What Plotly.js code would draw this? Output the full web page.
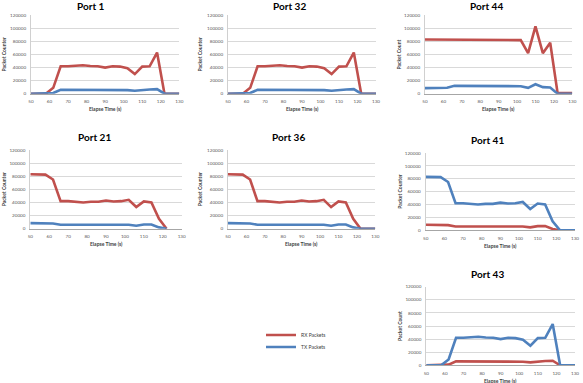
<!DOCTYPE html>
<html>
<head>
<meta charset="utf-8">
<script src="https://cdn.plot.ly/plotly-3.0.1.min.js"></script>
<style>html,body{margin:0;padding:0;background:#fff;}#chart{width:583px;height:383px;}</style>
</head>
<body>
<div id="chart"></div>
<script>
// ---- data ----
const timeFull = [50,54,58,62,66,70,74,78,82,86,90,94,98,102,106,110,114,118,122,126,130];
const timeShort = [50,54,58,62,66,70,74,78,82,86,90,94,98,102,106,110,114,118,122];

const port1RX  = [0,0,0,9000,42000,42000,42500,43500,42500,42000,40000,42000,41500,39000,30000,41500,42000,63000,0,0,0];
const port1TX  = [0,0,0,1000,6000,6000,6000,6500,6000,6000,5500,6000,6000,5500,4500,6000,6500,7000,0,0,0];
const port32RX = [0,0,0,9000,42000,42000,42500,43500,42500,42000,40000,42000,41500,39000,30000,41500,42000,63000,0,0,0];
const port32TX = [0,0,0,1000,6000,6000,6000,6500,6000,6000,5500,6000,6000,5500,4500,6000,6500,7000,0,0,0];
const port44RX = [83000,83000,83000,83000,83000,83000,82500,82500,82500,82500,82500,82500,82500,82000,62000,103000,62000,78000,1000,1000,1000];
const port44TX = [8500,8500,8500,9000,12000,12000,12000,12000,11500,11500,11500,11500,11500,11500,9000,14500,10000,9500,0,0,0];
const port21RX = [83000,83000,82500,75000,42000,42000,41000,40000,41000,41000,43000,41500,42000,44000,33000,41500,40000,15000,0];
const port21TX = [8500,8500,8500,8000,6000,6000,6000,6000,5500,5500,6000,6000,6000,6000,4500,6500,6500,2000,0];
const port36RX = [83000,83000,82500,75000,42000,42000,41000,40000,41000,41000,43000,41500,42000,44000,33000,41500,40000,15000,0,0,0];
const port36TX = [8500,8500,8500,8000,6000,6000,6000,6000,5500,5500,6000,6000,6000,6000,4500,6500,6500,2000,0,0,0];
const port41RX = [8500,8500,8500,8000,6000,6000,6000,6000,5500,5500,6000,6000,6000,6000,4500,6500,6500,2000,0,0,0];
const port41TX = [83000,83000,82500,75000,42000,42000,41000,40000,41000,41000,43000,41500,42000,44000,33000,41500,40000,14000,0,0,0];
const port43RX = [0,0,0,1000,6000,6000,6000,6500,6000,6000,5500,6000,6000,5500,4500,6000,6500,7000,0,0,0];
const port43TX = [0,0,0,9000,42000,42000,42500,43500,42500,42000,40000,42000,41500,39000,30000,41500,42000,63000,0,0,0];

const xTicks = [50,60,70,80,90,100,110,120,130];
const yTicks = [0,20000,40000,60000,80000,100000,120000];

const panels = [
  {name:'Port 1',  yTitle:'Packet Counter', x:timeFull,  rx:port1RX,  tx:port1TX},
  {name:'Port 32', yTitle:'Packet Counter', x:timeFull,  rx:port32RX, tx:port32TX},
  {name:'Port 44', yTitle:'Packet Count',   x:timeFull,  rx:port44RX, tx:port44TX},
  {name:'Port 21', yTitle:'Packet Counter', x:timeShort, rx:port21RX, tx:port21TX},
  {name:'Port 36', yTitle:'Packet Counter', x:timeFull,  rx:port36RX, tx:port36TX},
  {name:'Port 41', yTitle:'Packet Counter', x:timeFull,  rx:port41RX, tx:port41TX},
  {name:'Port 43', yTitle:'Packet Count',   x:timeFull,  rx:port43RX, tx:port43TX}
];

// ---- layout geometry (pixels) ----
const W = 583, H = 383;
const boxes = [
  {x0:31,    x1:179.3, y0:15.3, y1:93.7,  tx:90.7, ty:6,     yt:4},
  {x0:228,   x1:376,   y0:15.3, y1:93.7,  tx:289,  ty:6,     yt:200},
  {x0:425,   x1:572.3, y0:15.3, y1:93.7,  tx:486,  ty:6,     yt:399},
  {x0:30.3,  x1:181.7, y0:150,  y1:228.7, tx:94,   ty:137,   yt:4},
  {x0:228,   x1:375.3, y0:150,  y1:228.7, tx:288,  ty:137,   yt:200},
  {x0:425.7, x1:575,   y0:153,  y1:230.3, tx:487,  ty:140,   yt:400},
  {x0:426.3, x1:575,   y0:286.7,y1:365.3, tx:487,  ty:274,   yt:400}
];

const RED = '#C0504D', BLUE = '#4F81BD';
const FONT = 'Lato, "Open Sans", "DejaVu Sans", sans-serif';
const legendCommon = {
  xanchor: 'left', yanchor: 'top',
  font: {family: FONT, size: 5, color: '#404040'},
  bgcolor: 'rgba(0,0,0,0)', borderwidth: 0, itemwidth: 30
};

const traces = [];
const layout = {
  width: W, height: H,
  margin: {l:0, r:0, t:0, b:0},
  paper_bgcolor: '#ffffff', plot_bgcolor: '#ffffff',
  font: {family: FONT, color: '#000'},
  showlegend: true,
  legend: Object.assign({x: 261/W, y: 1 - 320.5/H}, legendCommon),
  legend2: Object.assign({x: 261/W, y: 1 - 332.5/H}, legendCommon),
  annotations: []
};

panels.forEach((p, i) => {
  const b = boxes[i];
  const n = i + 1;
  const xa = 'x' + (n === 1 ? '' : n), ya = 'y' + (n === 1 ? '' : n);
  const xk = 'xaxis' + (n === 1 ? '' : n), yk = 'yaxis' + (n === 1 ? '' : n);
  traces.push({x: p.x, y: p.rx, xaxis: xa, yaxis: ya, type: 'scatter', mode: 'lines',
    name: 'RX Packets', legend: 'legend', showlegend: i === 0,
    line: {color: RED, width: 2.6}});
  traces.push({x: p.x, y: p.tx, xaxis: xa, yaxis: ya, type: 'scatter', mode: 'lines',
    name: 'TX Packets', legend: 'legend2', showlegend: i === 0,
    line: {color: BLUE, width: 2.6}});
  layout[xk] = {
    domain: [b.x0 / W, b.x1 / W], anchor: ya, range: [50, 130],
    tickvals: xTicks, ticktext: xTicks.map(String),
    showgrid: false, zeroline: false, showline: true, linecolor: '#A6A6A6', linewidth: 1,
    ticks: '', ticklabelstandoff: 3,
    tickfont: {family: FONT, size: 4.6, color: '#595959'}, fixedrange: true
  };
  layout[yk] = {
    domain: [1 - b.y1 / H, 1 - b.y0 / H], anchor: xa, range: [0, 120000],
    tickvals: yTicks, ticktext: yTicks.map(String),
    showgrid: true, gridcolor: '#D9D9D9', gridwidth: 1, zeroline: false,
    showline: true, linecolor: '#D0D0D0', linewidth: 1,
    ticks: '', ticklabelstandoff: 3,
    tickfont: {family: FONT, size: 4.6, color: '#595959'}, fixedrange: true
  };
  // subplot title
  layout.annotations.push({text: '<b>' + p.name + '</b>', xref: 'paper', yref: 'paper',
    x: b.tx / W, y: 1 - b.ty / H, xanchor: 'center', yanchor: 'middle', showarrow: false,
    font: {family: FONT, size: 10, color: '#000'}});
  // x axis title
  layout.annotations.push({text: '<b>Elapse Time (s)</b>', xref: 'paper', yref: 'paper',
    x: (b.x0 + b.x1) / 2 / W, y: 1 - (b.y1 + 15.5) / H, xanchor: 'center', yanchor: 'middle',
    showarrow: false, font: {family: FONT, size: 5, color: '#404040'}});
  // y axis title
  layout.annotations.push({text: '<b>' + p.yTitle + '</b>', xref: 'paper', yref: 'paper',
    x: b.yt / W, y: 1 - (b.y0 + b.y1) / 2 / H, xanchor: 'center', yanchor: 'middle',
    textangle: -90, showarrow: false, font: {family: FONT, size: 5, color: '#404040'}});
});

Plotly.newPlot('chart', traces, layout, {displayModeBar: false, staticPlot: true});
</script>
</body>
</html>
